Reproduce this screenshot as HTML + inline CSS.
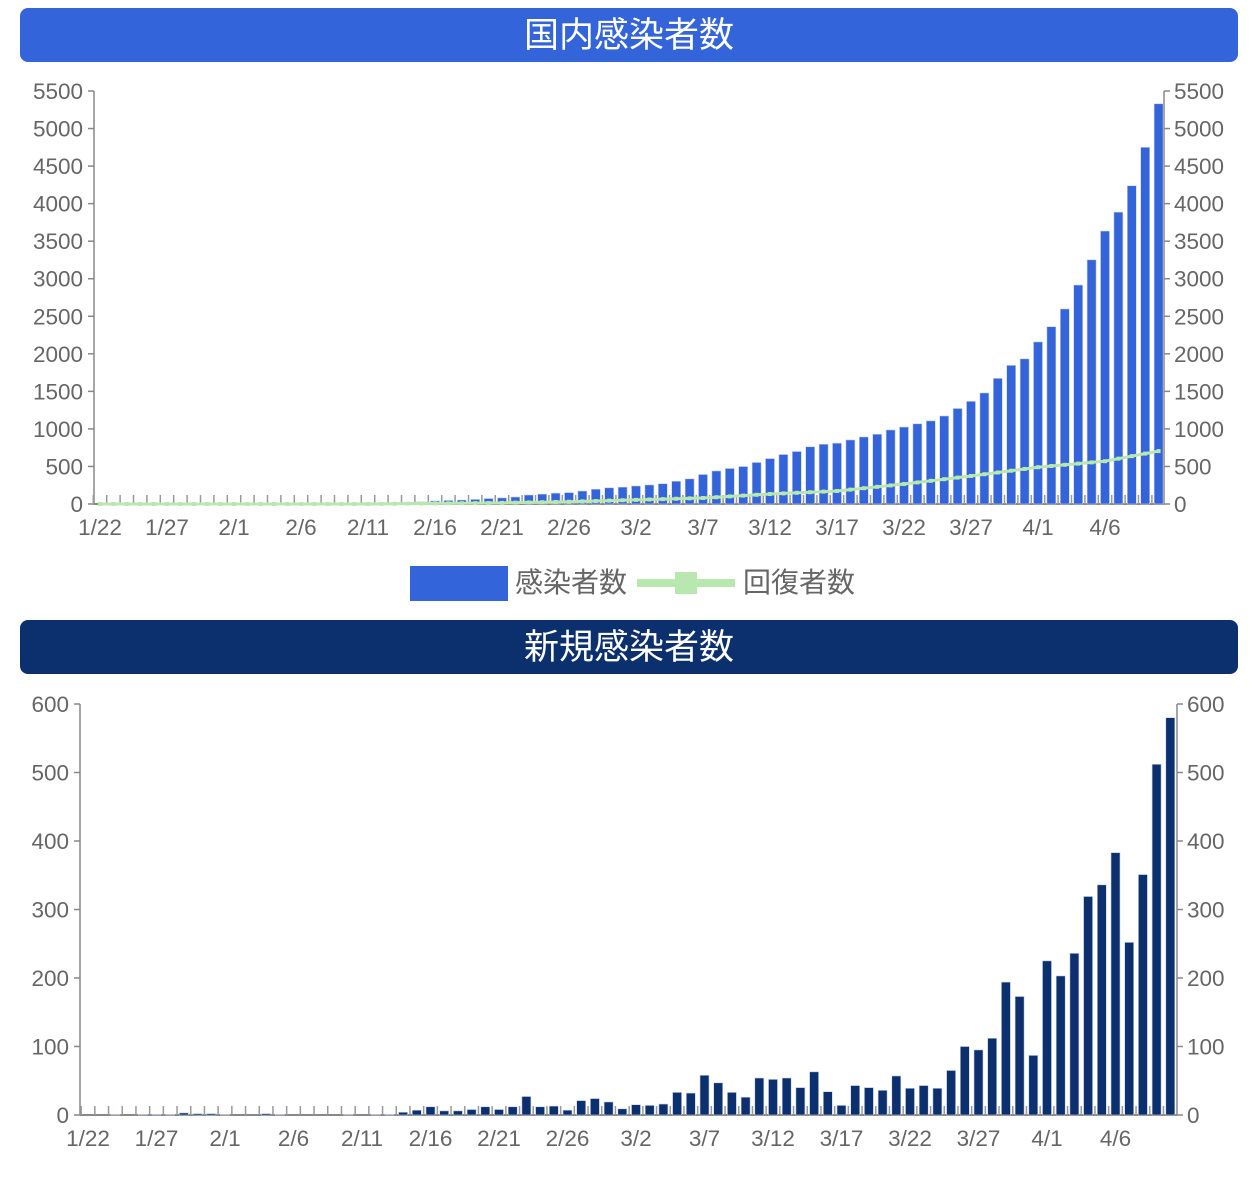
<!DOCTYPE html>
<html><head><meta charset="utf-8"><style>
body{margin:0;background:#fff;width:1258px;height:1188px;overflow:hidden}
svg{display:block;font-family:"Liberation Sans","Noto Sans CJK JP",sans-serif}
</style></head><body>
<svg id="s" width="1258" height="1188" xmlns="http://www.w3.org/2000/svg">
<rect x="20" y="8" width="1218" height="54" rx="8" fill="#3464DA"/>
<text x="629" y="47" text-anchor="middle" font-size="35" fill="#fff">国内感染者数</text>
<rect x="20" y="620" width="1218" height="54" rx="8" fill="#0C2F6E"/>
<text x="629" y="659" text-anchor="middle" font-size="35" fill="#fff">新規感染者数</text>
<rect x="410" y="566" width="98" height="35" fill="#3464DA"/>
<text x="515" y="592" font-size="28" fill="#666">感染者数</text>
<line x1="637" y1="583" x2="735" y2="583" stroke="#b8e8b0" stroke-width="8"/>
<rect x="675" y="572" width="22" height="22" fill="#b8e8b0"/>
<text x="743" y="592" font-size="28" fill="#666">回復者数</text>
<g id="g"></g>
</svg>
<script>
var nw=[0,0,1,0,1,1,1,3,2,2,1,0,0,2,1,0,0,0,0,1,0,1,
1,4,7,12,6,6,8,12,8,12,27,12,13,7,21,24,19,9,15,14,16,33,32,58,47,33,26,54,52,54,40,63,34,14,43,40,
36,57,39,43,39,65,100,95,112,194,173,87,225,203,236,319,336,383,252,351,512,580];
var cum=[],c=0;nw.forEach(v=>{c+=v;cum.push(c)});
var rk=[[0,0],[20,0],[30,15],[35,30],[45,80],[50,133],[55,173],[60,266],[65,373],[70,490],[75,570],[79,705]];
function rec(i){for(var k=1;k<rk.length;k++){if(i<=rk[k][0]){var a=rk[k-1],b=rk[k];return a[1]+(b[1]-a[1])*(i-a[0])/(b[0]-a[0]);}}return 705}
var h='';
var labs=['1/22','1/27','2/1','2/6','2/11','2/16','2/21','2/26','3/2','3/7','3/12','3/17','3/22','3/27','4/1','4/6'];
function chart(o){
 var L=o.L,R=o.R,B=o.B,T=o.T,max=o.max,sx=o.sx,x0=o.x0;
 var k=(B-T)/max;
 for(var v=0;v<=max;v+=o.step){var y=B-v*k;
  h+=`<line x1="${L-6}" y1="${y}" x2="${L}" y2="${y}" stroke="#888" stroke-width="1.5"/><line x1="${R}" y1="${y}" x2="${R+6}" y2="${y}" stroke="#888" stroke-width="1.5"/>`;
  h+=`<text x="${L-11}" y="${y+8}" text-anchor="end" font-size="22.5" fill="#666">${v}</text><text x="${R+10}" y="${y+8}" font-size="22.5" fill="#666">${v}</text>`;}
 h+=`<line x1="${L}" y1="${T}" x2="${L}" y2="${B}" stroke="#888" stroke-width="1.5"/><line x1="${R}" y1="${T}" x2="${R}" y2="${B}" stroke="#888" stroke-width="1.5"/><line x1="${L}" y1="${B}" x2="${R}" y2="${B}" stroke="#888" stroke-width="2"/>`;
 for(var i=0;i<80;i++){var x=x0+sx*i;
  h+=`<line x1="${x-sx/2}" y1="${B-9}" x2="${x-sx/2}" y2="${B}" stroke="#999" stroke-width="1.5"/>`;}
 o.data.forEach((v,i)=>{var x=x0+sx*i,hh=v*k;if(hh>0)h+=`<rect x="${x-4.5}" y="${B-hh}" width="9" height="${hh}" fill="${o.col}" stroke="#c8d0e8" stroke-width="0.6"/>`;});
 labs.forEach((t,j)=>{h+=`<text x="${x0+sx*5*j}" y="${B+31}" text-anchor="middle" font-size="22.5" fill="#666">${t}</text>`;});
 if(o.line){var p=[];for(var i=0;i<80;i++){p.push((x0+sx*i)+','+(B-rec(i)*k));}
  h+=`<polyline points="${p.join(' ')}" fill="none" stroke="#b8e8b0" stroke-width="3"/>`;
  for(var i=0;i<80;i++)h+=`<rect x="${x0+sx*i-2}" y="${B-rec(i)*k-2}" width="4" height="4" fill="#b8e8b0"/>`;}
}
chart({L:94,R:1164,T:91,B:504,max:5500,step:500,sx:13.4,x0:100,data:cum,col:"#3464DA",line:true});
chart({L:80,R:1177,T:704,B:1115,max:600,step:100,sx:13.7,x0:88,data:nw,col:"#0C2F6E"});
document.getElementById('g').innerHTML=h;
</script>
</body></html>
